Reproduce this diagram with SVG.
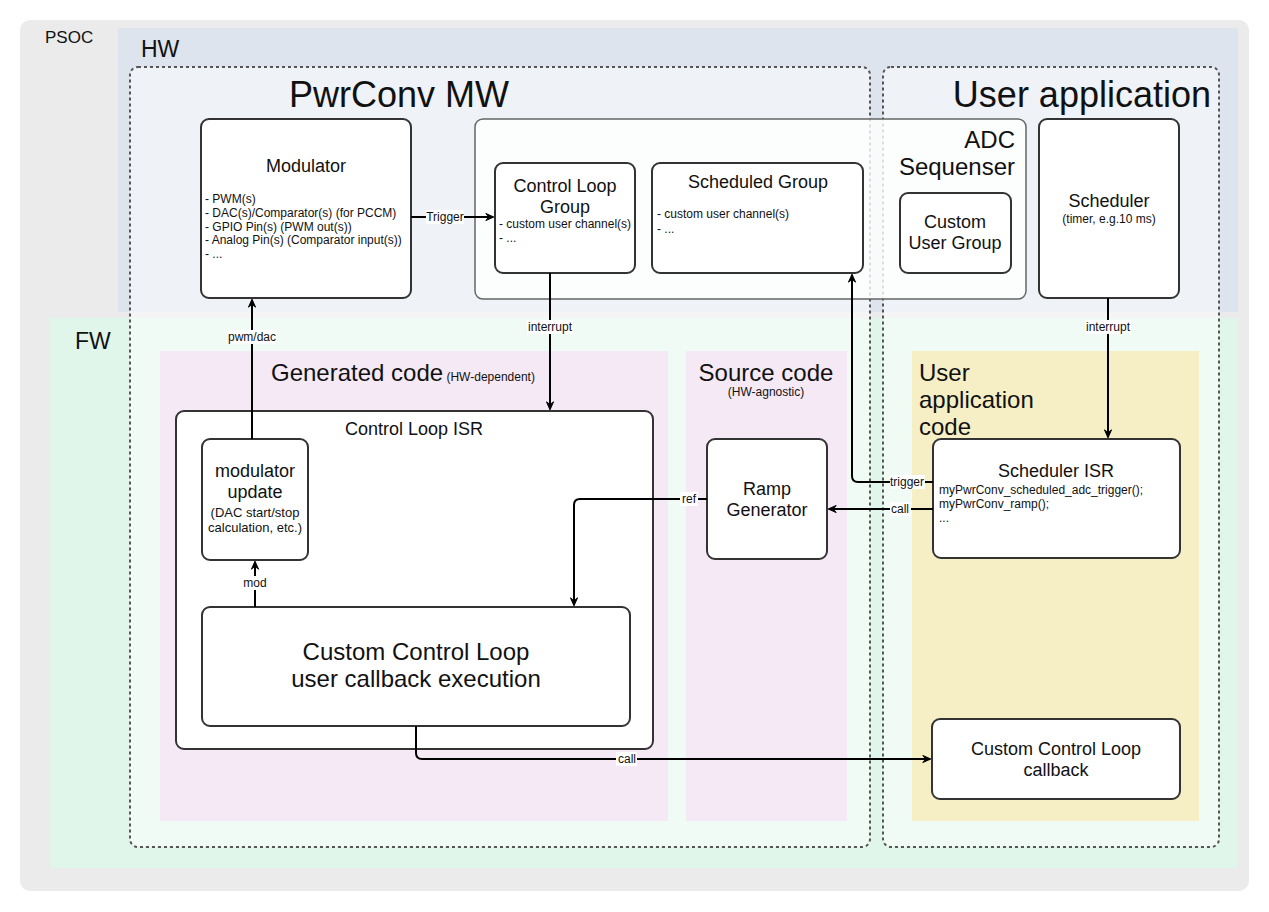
<svg xmlns="http://www.w3.org/2000/svg" width="1269" height="912" viewBox="0 0 1269 912">
<defs>
<style>
text{font-family:"Liberation Sans",Arial,sans-serif;fill:#111}
.node{fill:#fff;stroke:#333;stroke-width:2}
.dash{fill:#fff;fill-opacity:0.5;stroke:#555;stroke-width:2;stroke-dasharray:3 3}
.edge{fill:none;stroke:#000;stroke-width:2}
.lbl{font-size:12px;text-anchor:middle}
.lblbg{fill:#fff}
.t18{font-size:18px;text-anchor:middle}
.t12{font-size:12px}
.big{font-size:36px}
.reg{font-size:24px}
</style>
<marker id="arr" viewBox="0 0 10 10" markerWidth="9" markerHeight="9" refX="9" refY="5" orient="auto" markerUnits="userSpaceOnUse">
<path d="M1,1 L10,5 L1,9 L4,5 z" fill="#000" stroke="#000" stroke-width="1"/>
</marker>
</defs>

<g id="psoc">
<rect x="20" y="20" width="1229" height="871" rx="10" fill="#ebebeb"/>
<text x="45" y="43" font-size="17">PSOC</text>
</g>
<g id="hw">
<rect x="118" y="28" width="1120" height="284" fill="#dee4ed"/>
<text x="141" y="57" font-size="23">HW</text>
</g>
<g id="fw">
<rect x="50" y="318" width="1188" height="550" fill="#e0f6ea"/>
<text x="75" y="349" font-size="23">FW</text>
</g>

<g id="pwrconv-mw">
<rect class="dash" x="130" y="67" width="740" height="780" rx="8"/>
<text class="big" x="399" y="107" text-anchor="middle">PwrConv MW</text>
</g>
<g id="user-application">
<rect class="dash" x="883" y="67" width="336" height="780" rx="8"/>
<text class="big" x="1211" y="107" text-anchor="end">User application</text>
</g>

<g id="generated-code">
<rect x="160" y="351" width="508" height="470" fill="#f5e9f6"/>
<text x="271" y="381"><tspan class="reg">Generated code</tspan><tspan font-size="12"> (HW-dependent)</tspan></text>
</g>
<g id="source-code">
<rect x="686" y="351" width="161" height="470" fill="#f5e9f6"/>
<text class="reg" x="766" y="381" text-anchor="middle">Source code</text>
<text x="766" y="396" font-size="12" text-anchor="middle">(HW-agnostic)</text>
</g>
<g id="user-application-code">
<rect x="912" y="351" width="287" height="470" fill="#f6efc6"/>
<text class="reg" x="919" y="381">User</text>
<text class="reg" x="919" y="408">application</text>
<text class="reg" x="919" y="435">code</text>
</g>

<g id="adc-sequenser">
<rect x="475" y="119" width="551" height="180" rx="8" fill="#fff" fill-opacity="0.8" stroke="#666" stroke-width="1.5"/>
<text x="1015" y="148" font-size="24" text-anchor="end">ADC</text>
<text x="1015" y="175" font-size="24" text-anchor="end">Sequenser</text>
</g>

<g id="modulator">
<rect class="node" x="201" y="119" width="210" height="179" rx="8"/>
<text class="t18" x="306" y="172">Modulator</text>
<text class="t12" x="205" y="203">- PWM(s)</text>
<text class="t12" x="205" y="217">- DAC(s)/Comparator(s) (for PCCM)</text>
<text class="t12" x="205" y="230.5">- GPIO Pin(s) (PWM out(s))</text>
<text class="t12" x="205" y="244">- Analog Pin(s) (Comparator input(s))</text>
<text class="t12" x="205" y="258">- ...</text>
</g>

<g id="control-loop-group">
<rect class="node" x="495" y="163" width="140" height="110" rx="8"/>
<text class="t18" x="565" y="192">Control Loop</text>
<text class="t18" x="565" y="213">Group</text>
<text class="t12" x="499" y="228">- custom user channel(s)</text>
<text class="t12" x="499" y="242">- ...</text>
</g>

<g id="scheduled-group">
<rect class="node" x="652" y="163" width="211" height="110" rx="8"/>
<text class="t18" x="758" y="188">Scheduled Group</text>
<text class="t12" x="657" y="218">- custom user channel(s)</text>
<text class="t12" x="657" y="233">- ...</text>
</g>

<g id="custom-user-group">
<rect class="node" x="900" y="193" width="111" height="80" rx="8"/>
<text class="t18" x="955" y="228">Custom</text>
<text class="t18" x="955" y="249">User Group</text>
</g>

<g id="scheduler">
<rect class="node" x="1039" y="119" width="140" height="179" rx="8"/>
<text class="t18" x="1109" y="207">Scheduler</text>
<text x="1109" y="223" font-size="12" text-anchor="middle">(timer, e.g.10 ms)</text>
</g>

<g id="control-loop-isr">
<rect class="node" x="176" y="411" width="477" height="338" rx="8"/>
<text class="t18" x="414" y="435">Control Loop ISR</text>
</g>

<g id="modulator-update">
<rect class="node" x="202" y="439" width="106" height="121" rx="8"/>
<text class="t18" x="255" y="477">modulator</text>
<text class="t18" x="255" y="498">update</text>
<text x="255" y="517" font-size="13" text-anchor="middle">(DAC start/stop</text>
<text x="255" y="532" font-size="13" text-anchor="middle">calculation, etc.)</text>
</g>

<g id="custom-control-loop-exec">
<rect class="node" x="202" y="607" width="428" height="119" rx="8"/>
<text x="416" y="660" font-size="24" text-anchor="middle">Custom Control Loop</text>
<text x="416" y="687" font-size="24" text-anchor="middle">user callback execution</text>
</g>

<g id="ramp-generator">
<rect class="node" x="707" y="439" width="120" height="120" rx="8"/>
<text class="t18" x="767" y="495">Ramp</text>
<text class="t18" x="767" y="516">Generator</text>
</g>

<g id="scheduler-isr">
<rect class="node" x="933" y="439" width="247" height="119" rx="8"/>
<text class="t18" x="1056" y="477">Scheduler ISR</text>
<text class="t12" x="939" y="494">myPwrConv_scheduled_adc_trigger();</text>
<text class="t12" x="939" y="508">myPwrConv_ramp();</text>
<text class="t12" x="939" y="522"> ...</text>
</g>

<g id="custom-control-loop-callback">
<rect class="node" x="932" y="719" width="248" height="80" rx="8"/>
<text class="t18" x="1056" y="755">Custom Control Loop</text>
<text class="t18" x="1056" y="776">callback</text>
</g>

<g id="connectors">
<path class="edge" d="M411,217 H493" marker-end="url(#arr)"/>
<path class="edge" d="M550,273 V409" marker-end="url(#arr)"/>
<path class="edge" d="M1108,298 V437" marker-end="url(#arr)"/>
<path class="edge" d="M252,439 V300" marker-end="url(#arr)"/>
<path class="edge" d="M255,607 V562" marker-end="url(#arr)"/>
<path class="edge" d="M707,499 H580 Q574,499 574,505 V605" marker-end="url(#arr)"/>
<path class="edge" d="M933,509 H829" marker-end="url(#arr)"/>
<path class="edge" d="M933,482 H858 Q852,482 852,476 V275" marker-end="url(#arr)"/>
<path class="edge" d="M416,726 V753 Q416,759 422,759 H930" marker-end="url(#arr)"/>

<rect class="lblbg" x="426" y="210" width="38" height="14"/>
<text class="lbl" x="445" y="221">Trigger</text>
<rect class="lblbg" x="527" y="320" width="46" height="14"/>
<text class="lbl" x="550" y="331">interrupt</text>
<rect class="lblbg" x="1085" y="320" width="46" height="14"/>
<text class="lbl" x="1108" y="331">interrupt</text>
<rect class="lblbg" x="228" y="330" width="48" height="14"/>
<text class="lbl" x="252" y="341">pwm/dac</text>
<rect class="lblbg" x="243" y="576" width="24" height="14"/>
<text class="lbl" x="255" y="587">mod</text>
<rect class="lblbg" x="680" y="492" width="18" height="14"/>
<text class="lbl" x="689" y="503">ref</text>
<rect class="lblbg" x="890" y="502" width="21" height="14"/>
<text class="lbl" x="900" y="513">call</text>
<rect class="lblbg" x="890" y="475" width="35" height="14"/>
<text class="lbl" x="907" y="486">trigger</text>
<rect class="lblbg" x="616" y="752" width="21" height="14"/>
<text class="lbl" x="627" y="763">call</text>
</g>
</svg>
